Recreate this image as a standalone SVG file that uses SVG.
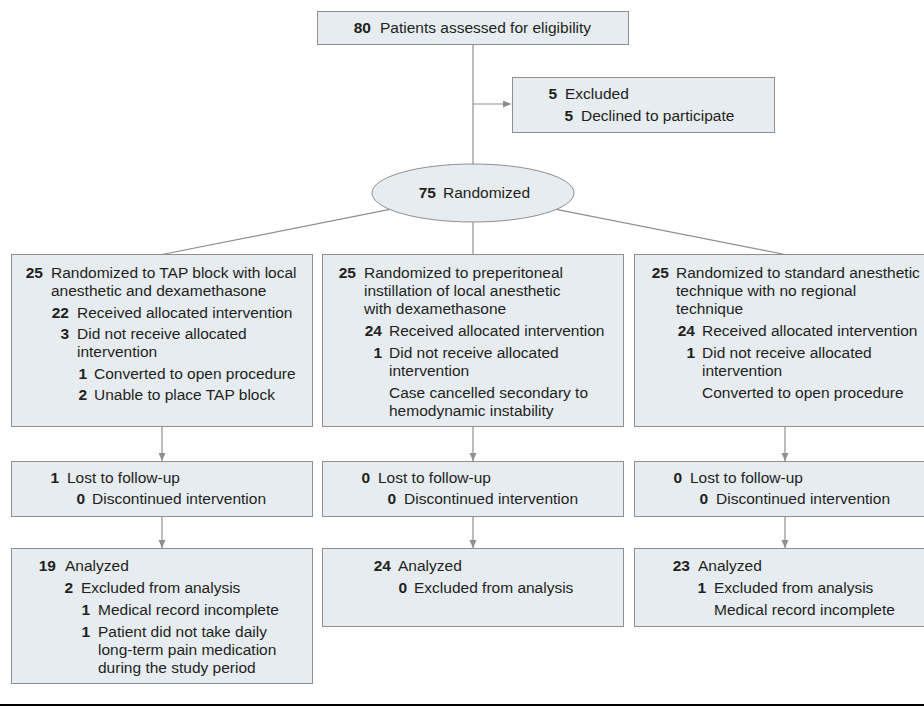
<svg xmlns="http://www.w3.org/2000/svg" width="924" height="707" viewBox="0 0 924 707">
<style>
.box{fill:#e6ecf0;stroke:#8f8f8f;stroke-width:1}
.ln{stroke:#8f8f8f;stroke-width:1.2;fill:none}
text{font-family:"Liberation Sans",Arial,sans-serif;font-size:15.5px;fill:#231f20}
.n{font-weight:bold;text-anchor:end}
</style>
<defs>
<marker id="arr" markerUnits="userSpaceOnUse" markerWidth="8" markerHeight="8" refX="8" refY="3.5" orient="auto">
<path d="M0,0 L8,3.5 L0,7 z" fill="#8f8f8f"/>
</marker>
</defs>
<rect width="924" height="707" fill="#fff"/>
<g id="connectors">
<line class="ln" x1="473" y1="44.5" x2="473" y2="164"/>
<line class="ln" x1="473" y1="104" x2="511" y2="104" marker-end="url(#arr)"/>
<line class="ln" x1="389.7" y1="209.4" x2="162" y2="254.5"/>
<line class="ln" x1="473" y1="222" x2="473" y2="254.5"/>
<line class="ln" x1="556.3" y1="209.4" x2="785" y2="254.5"/>
<line class="ln" x1="162" y1="426.5" x2="162" y2="461" marker-end="url(#arr)"/>
<line class="ln" x1="473" y1="426.5" x2="473" y2="461" marker-end="url(#arr)"/>
<line class="ln" x1="785" y1="426.5" x2="785" y2="461" marker-end="url(#arr)"/>
<line class="ln" x1="162" y1="516.5" x2="162" y2="548" marker-end="url(#arr)"/>
<line class="ln" x1="473" y1="516.5" x2="473" y2="548" marker-end="url(#arr)"/>
<line class="ln" x1="785" y1="516.5" x2="785" y2="548" marker-end="url(#arr)"/>
</g>
<g id="assessed">
<rect class="box" x="317.5" y="11.5" width="311" height="33"/>
<text class="n" x="371" y="33">80</text><text x="380" y="33">Patients assessed for eligibility</text>
</g>
<g id="excluded">
<rect class="box" x="512.5" y="77.5" width="262" height="55"/>
<text class="n" x="557" y="99">5</text><text x="565" y="99">Excluded</text>
<text class="n" x="573" y="121">5</text><text x="581" y="121">Declined to participate</text>
</g>
<g id="randomized">
<ellipse class="box" cx="473" cy="193" rx="101" ry="29"/>
<text class="n" x="436" y="198">75</text><text x="443" y="198">Randomized</text>
</g>
<g id="alloc-tap">
<rect class="box" x="11.5" y="254.5" width="301" height="172"/>
<text class="n" x="43" y="278">25</text><text x="51" y="278">Randomized to TAP block with local</text>
<text x="51" y="296">anesthetic and dexamethasone</text>
<text class="n" x="69" y="318">22</text><text x="77" y="318">Received allocated intervention</text>
<text class="n" x="69" y="339">3</text><text x="77" y="339">Did not receive allocated</text>
<text x="77" y="357">intervention</text>
<text class="n" x="87" y="379">1</text><text x="94" y="379">Converted to open procedure</text>
<text class="n" x="87" y="400">2</text><text x="94" y="400">Unable to place TAP block</text>
</g>
<g id="alloc-prep">
<rect class="box" x="322.5" y="254.5" width="301" height="172"/>
<text class="n" x="356" y="278">25</text><text x="364" y="278">Randomized to preperitoneal</text>
<text x="364" y="296">instillation of local anesthetic</text>
<text x="364" y="314">with dexamethasone</text>
<text class="n" x="382" y="336">24</text><text x="389" y="336">Received allocated intervention</text>
<text class="n" x="382" y="358">1</text><text x="389" y="358">Did not receive allocated</text>
<text x="389" y="376">intervention</text>
<text x="389" y="398">Case cancelled secondary to</text>
<text x="389" y="416">hemodynamic instability</text>
</g>
<g id="alloc-std">
<rect class="box" x="634.5" y="254.5" width="301" height="172"/>
<text class="n" x="669" y="278">25</text><text x="676" y="278">Randomized to standard anesthetic</text>
<text x="676" y="296">technique with no regional</text>
<text x="676" y="314">technique</text>
<text class="n" x="695" y="336">24</text><text x="702" y="336">Received allocated intervention</text>
<text class="n" x="695" y="358">1</text><text x="702" y="358">Did not receive allocated</text>
<text x="702" y="376">intervention</text>
<text x="702" y="398">Converted to open procedure</text>
</g>
<g id="follow-tap">
<rect class="box" x="11.5" y="461.5" width="301" height="55"/>
<text class="n" x="59" y="483">1</text><text x="67" y="483">Lost to follow-up</text>
<text class="n" x="85" y="504">0</text><text x="92" y="504">Discontinued intervention</text>
</g>
<g id="follow-prep">
<rect class="box" x="322.5" y="461.5" width="301" height="55"/>
<text class="n" x="370" y="483">0</text><text x="378" y="483">Lost to follow-up</text>
<text class="n" x="396" y="504">0</text><text x="404" y="504">Discontinued intervention</text>
</g>
<g id="follow-std">
<rect class="box" x="634.5" y="461.5" width="301" height="55"/>
<text class="n" x="682" y="483">0</text><text x="690" y="483">Lost to follow-up</text>
<text class="n" x="708" y="504">0</text><text x="716" y="504">Discontinued intervention</text>
</g>
<g id="analysis-tap">
<rect class="box" x="11.5" y="548.5" width="301" height="135"/>
<text class="n" x="56" y="571">19</text><text x="65" y="571">Analyzed</text>
<text class="n" x="73" y="593">2</text><text x="81" y="593">Excluded from analysis</text>
<text class="n" x="90" y="615">1</text><text x="98" y="615">Medical record incomplete</text>
<text class="n" x="90" y="637">1</text><text x="98" y="637">Patient did not take daily</text>
<text x="98" y="655">long-term pain medication</text>
<text x="98" y="673">during the study period</text>
</g>
<g id="analysis-prep">
<rect class="box" x="322.5" y="548.5" width="301" height="78"/>
<text class="n" x="391" y="571">24</text><text x="398" y="571">Analyzed</text>
<text class="n" x="407" y="593">0</text><text x="414" y="593">Excluded from analysis</text>
</g>
<g id="analysis-std">
<rect class="box" x="634.5" y="548.5" width="301" height="78"/>
<text class="n" x="690" y="571">23</text><text x="698" y="571">Analyzed</text>
<text class="n" x="706" y="593">1</text><text x="714" y="593">Excluded from analysis</text>
<text x="714" y="615">Medical record incomplete</text>
</g>
<line x1="0" y1="705" x2="924" y2="705" stroke="#000" stroke-width="2"/>
</svg>
